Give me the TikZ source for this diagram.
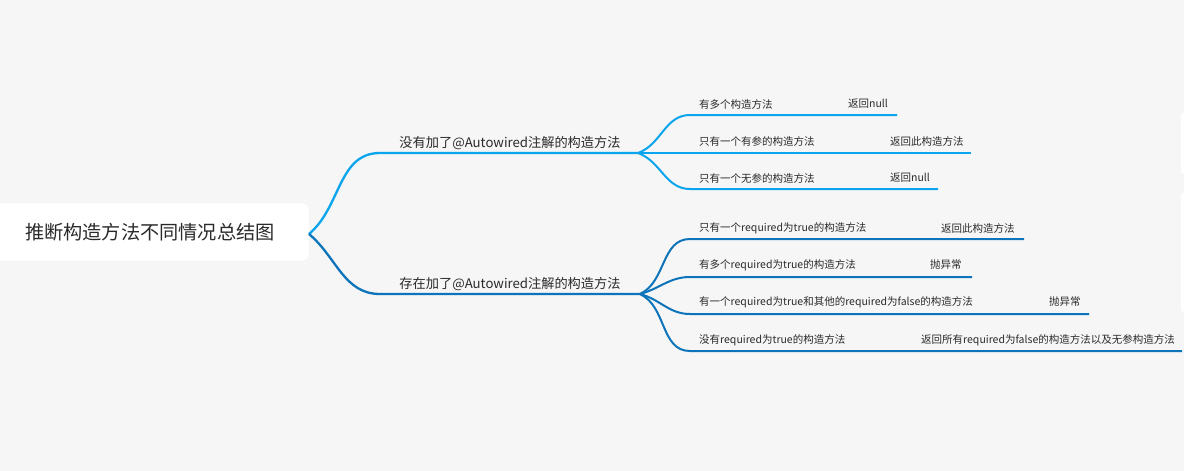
\documentclass[tikz,border=0pt]{standalone}
\usepackage{fontspec}
\setmainfont{Noto Sans CJK SC}
\usetikzlibrary{positioning}

\definecolor{bgcol}{HTML}{F6F6F6}
\definecolor{lightline}{HTML}{0AA5EC}
\definecolor{darkline}{HTML}{0E74BA}
\definecolor{txtcol}{HTML}{2A2A2A}

\tikzset{
	rootbox/.style={fill=white, draw=black!6, rounded corners=6pt, minimum width=318pt, minimum height=58pt, text=txtcol, font=\fontsize{19.2}{22}\selectfont},
	branchtxt/.style={text=txtcol, inner sep=0pt, font=\fontsize{13.2}{16}\selectfont},
	leaftxt/.style={anchor=west, text=txtcol, inner sep=0pt, font=\fontsize{10.5}{12}\selectfont},
	upline/.style={draw=lightline, line width=2.3pt},
	lowline/.style={draw=darkline, line width=2.3pt},
	upleaf/.style={draw=lightline, line width=2pt},
	lowleaf/.style={draw=darkline, line width=2pt}
}

\begin{document}
\begin{tikzpicture}[x=1pt,y=-1pt]
			\useasboundingbox (0,0) rectangle (1184,471);
			\fill[bgcol] (0,0) rectangle (1184,471);
			% panels cut off at the right edge
			\fill[white] (1181,113) [rounded corners=3pt] rectangle (1200,174);
			\fill[white] (1181,193) [rounded corners=3pt] rectangle (1200,312);
			
			\node	(root) at (150,232) [rootbox] {推断构造方法不同情况总结图};
			\coordinate (rootR) at (309,234);
			
			% upper branch
			\node	(up) at (510,143) [branchtxt] {没有加了@Autowired注解的构造方法};
			\coordinate (up0) at (380,153);
			\coordinate (up1) at (638,153);
			
			\node	(u1) at (699,104) [leaftxt] {有多个构造方法};
			\node	(u1r) at (848,104) [leaftxt] {返回null};
			\coordinate (u1a) at (690,115);
			\coordinate (u1b) at (897,115);
			
			\node	(u2) at (699,141) [leaftxt] {只有一个有参的构造方法};
			\node	(u2r) at (890,141) [leaftxt] {返回此构造方法};
			\coordinate (u2a) at (690,153);
			\coordinate (u2b) at (971,153);
			
			\node	(u3) at (699,178) [leaftxt] {只有一个无参的构造方法};
			\node	(u3r) at (890,178) [leaftxt] {返回null};
			\coordinate (u3a) at (690,189);
			\coordinate (u3b) at (938,189);
			
			% lower branch
			\node	(low) at (510,284) [branchtxt] {存在加了@Autowired注解的构造方法};
			\coordinate (low0) at (380,294);
			\coordinate (low1) at (640,294);
			
			\node	(l1) at (699,228) [leaftxt] {只有一个required为true的构造方法};
			\node	(l1r) at (941,228) [leaftxt] {返回此构造方法};
			\coordinate (l1a) at (690,239);
			\coordinate (l1b) at (1024,239);
			
			\node	(l2) at (699,265) [leaftxt] {有多个required为true的构造方法};
			\node	(l2r) at (930,265) [leaftxt] {抛异常};
			\coordinate (l2a) at (690,277);
			\coordinate (l2b) at (972,277);
			
			\node	(l3) at (699,302) [leaftxt] {有一个required为true和其他的required为false的构造方法};
			\node	(l3r) at (1049,302) [leaftxt] {抛异常};
			\coordinate (l3a) at (690,314);
			\coordinate (l3b) at (1089,314);
			
			\node	(l4) at (699,340) [leaftxt] {没有required为true的构造方法};
			\node	(l4r) at (921,340) [leaftxt] {返回所有required为false的构造方法以及无参构造方法};
			\coordinate (l4a) at (690,351);
			\coordinate (l4b) at (1182,351);
			
			\draw[upline] (rootR) to[out=40,in=180] (up0) -- (up1);
			\draw[lowline] (rootR) to[out=-40,in=180] (low0) -- (low1);
			
			\draw[upleaf] (up1) to[out=20,in=180] (u1a) -- (u1b);
			\draw[upleaf] (up1) -- (u2a) -- (u2b);
			\draw[upleaf] (up1) to[out=-20,in=180] (u3a) -- (u3b);
			
			\draw[lowleaf] (low1) to[out=25,in=180] (l1a) -- (l1b);
			\draw[lowleaf] (low1) to[out=15,in=180] (l2a) -- (l2b);
			\draw[lowleaf] (low1) to[out=-15,in=180] (l3a) -- (l3b);
			\draw[lowleaf] (low1) to[out=-25,in=180] (l4a) -- (l4b);
		\end{tikzpicture}
\end{document}
